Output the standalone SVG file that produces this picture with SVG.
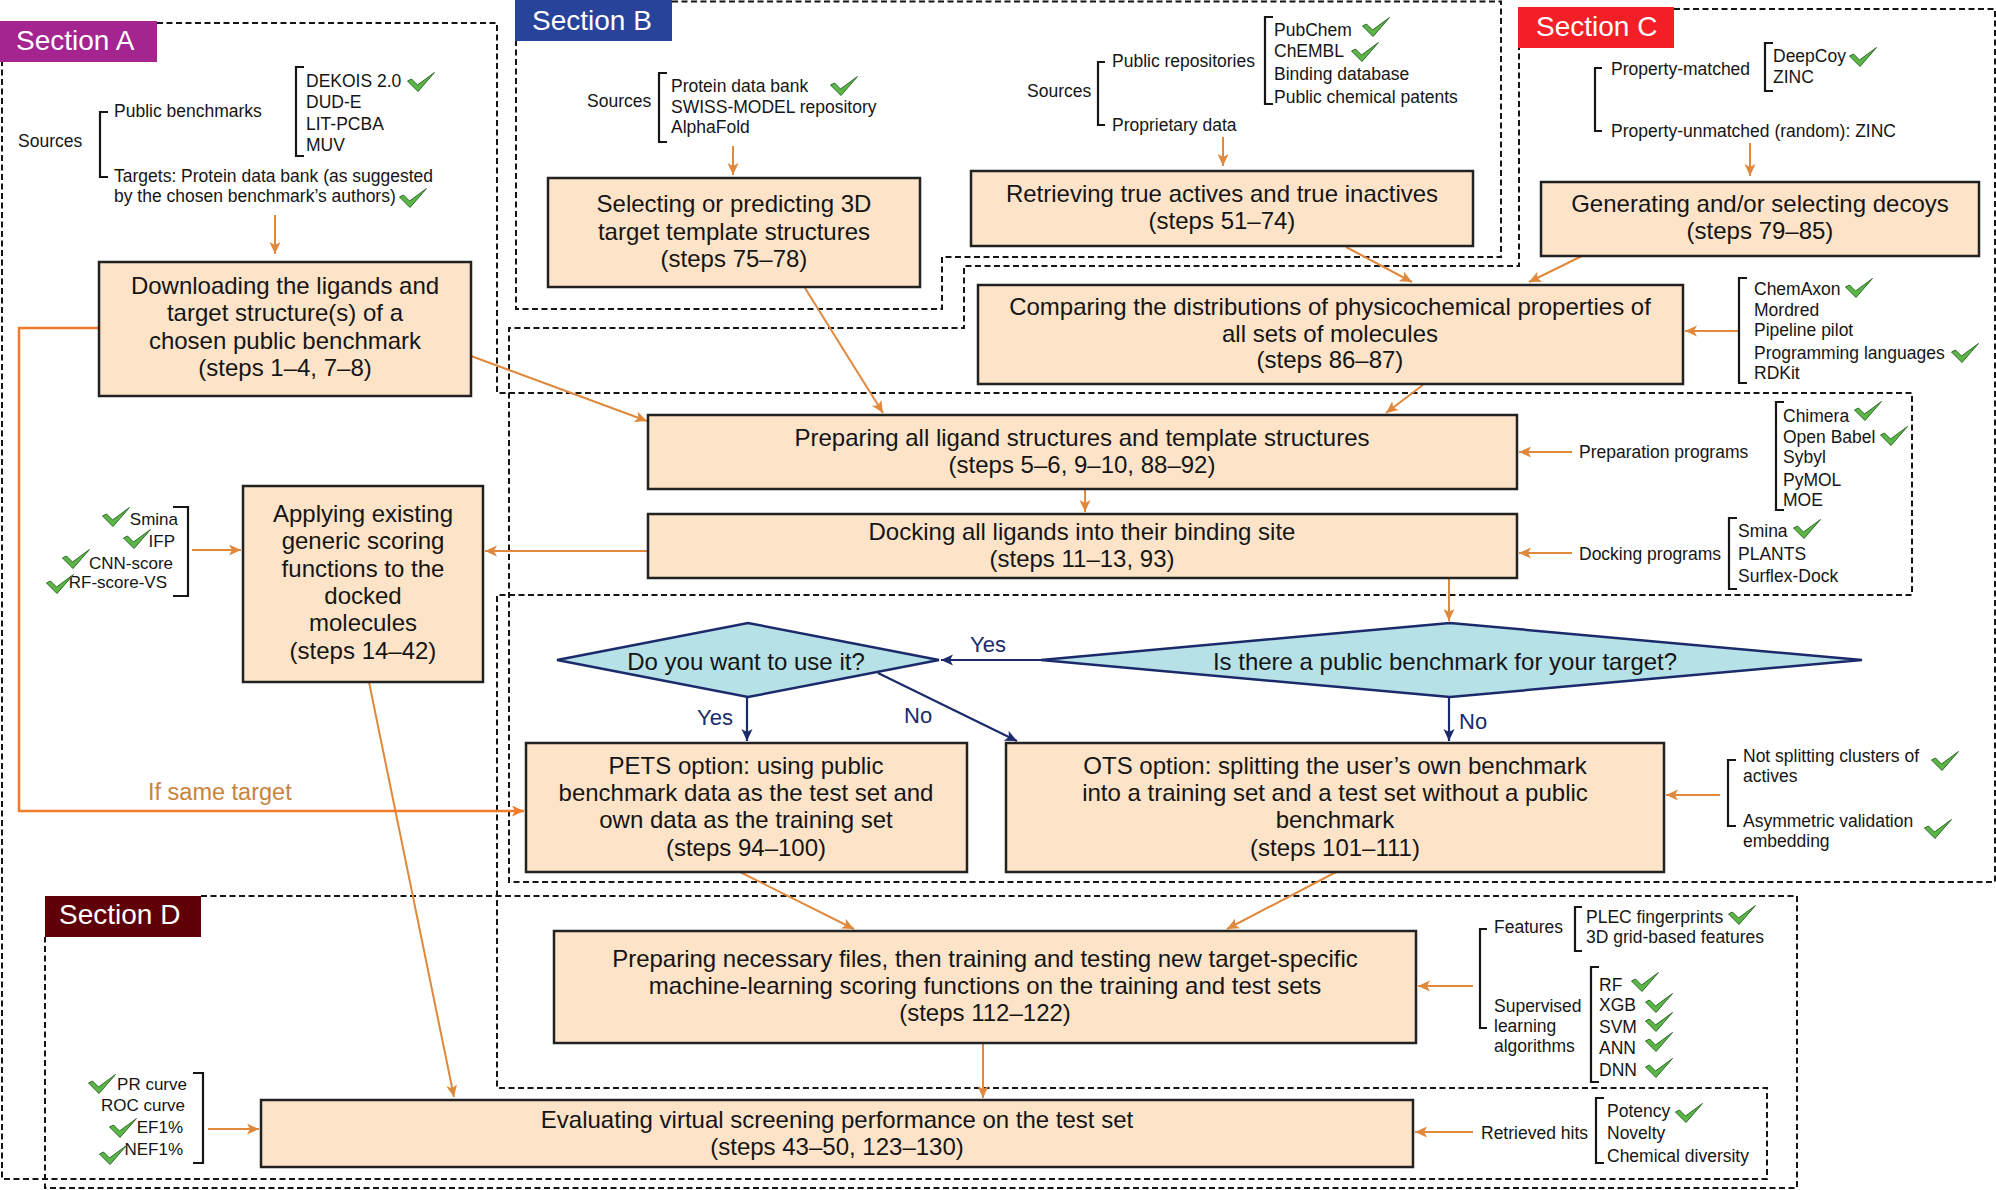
<svg xmlns="http://www.w3.org/2000/svg" xmlns:xlink="http://www.w3.org/1999/xlink" width="1996" height="1190" viewBox="0 0 1996 1190">
<defs>
<style>
text{font-family:"Liberation Sans",Arial,sans-serif;fill:#151515}
.nt{font-size:24px;text-anchor:middle}
.st{font-size:17.5px}
.sm{font-size:17px}
.end{text-anchor:end}
.sec{font-size:28px;fill:#ffffff}
.node{fill:#fde3c8;stroke:#222;stroke-width:2.5}
.dash{fill:none;stroke:#151515;stroke-width:2;stroke-dasharray:6 3.5}
.br{fill:none;stroke:#151515;stroke-width:2.2}
.oa{fill:none;stroke:#e0883c;stroke-width:2;marker-end:url(#ao)}
.na{fill:none;stroke:#1b2a6b;stroke-width:2.2;marker-end:url(#an)}
.dia{fill:#b6e1e7;stroke:#1b2a6b;stroke-width:2.5}
.lbl{font-size:22px;fill:#1b2a6b}
</style>
<marker id="ao" markerUnits="userSpaceOnUse" markerWidth="13" markerHeight="12" refX="12" refY="5.5" orient="auto"><path d="M0,0 L12,5.5 L0,11 L3,5.5 Z" fill="#e0883c"/></marker>
<marker id="ab" markerUnits="userSpaceOnUse" markerWidth="13" markerHeight="12" refX="12" refY="5.5" orient="auto"><path d="M0,0 L12,5.5 L0,11 L3,5.5 Z" fill="#f27a2b"/></marker>
<marker id="an" markerUnits="userSpaceOnUse" markerWidth="13" markerHeight="12" refX="12" refY="5.5" orient="auto"><path d="M0,0 L12,5.5 L0,11 L3,5.5 Z" fill="#1b2a6b"/></marker>
<symbol id="chk" viewBox="0 0 28 20"><path d="M0.5,9 L4.5,7 L10.5,13 L27.5,0.5 L11,19.5 Z" fill="#5cb646" stroke="#2d6a2a" stroke-width="1"/></symbol>
</defs>
<rect width="1996" height="1190" fill="#ffffff"/>

<!-- section outlines -->
<g id="section-a">
<path class="dash" d="M157,23 H497 V393 H1912 V595 H497 V1088 H1767 V1179 H2 V62"/>
<rect x="0" y="21" width="157" height="41" fill="#a42490"/>
<text class="sec" x="16" y="50">Section A</text>
</g>
<g id="section-b">
<path class="dash" d="M672,1.5 H1501 V257 H942 V309 H516 V41"/>
<rect x="515" y="0" width="157" height="41" fill="#27439a"/>
<text class="sec" x="532" y="30">Section B</text>
</g>
<g id="section-c">
<path class="dash" d="M1674,9 H1995 V882 H509 V328 H964 V266 H1519 V48"/>
<rect x="1518" y="7" width="156" height="41" fill="#f41e27"/>
<text class="sec" x="1536" y="36">Section C</text>
</g>
<g id="section-d">
<path class="dash" d="M201,896 H1797 V1188 H45 V937"/>
<rect x="45" y="896" width="156" height="41" fill="#5e0006"/>
<text class="sec" x="59" y="924">Section D</text>
</g>

<!-- connectors -->
<g id="connectors">
<path class="oa" d="M275,215 V254"/>
<path class="oa" d="M733,146 V175"/>
<path class="oa" d="M1223,137 V166"/>
<path class="oa" d="M1750,143 V176"/>
<path class="oa" d="M1346,247 L1412,282"/>
<path class="oa" d="M1582,256 L1529,282"/>
<path class="oa" d="M1739,331 H1685"/>
<path class="oa" d="M1423,385 L1386,413"/>
<path class="oa" d="M471,356 L647,421"/>
<path class="oa" d="M805,288 L883,413"/>
<path class="oa" d="M1085,489 V512"/>
<path class="oa" d="M1572,452 H1519"/>
<path class="oa" d="M1572,553 H1519"/>
<path class="oa" d="M648,551 H485"/>
<path class="oa" d="M192,550 H241"/>
<path class="oa" d="M1449,578 V621"/>
<path class="oa" d="M369,682 L454,1097"/>
<path d="M99,328 H19 V811 H524" fill="none" stroke="#f27a2b" stroke-width="2.5" marker-end="url(#ab)"/>
<text x="148" y="800" style="font-size:23.5px;fill:#c8843e">If same target</text>
<path class="oa" d="M740,872 L854,929"/>
<path class="oa" d="M1336,872 L1227,929"/>
<path class="oa" d="M1720,795 H1666"/>
<path class="oa" d="M983,1043 V1098"/>
<path class="oa" d="M1473,986 H1418"/>
<path class="oa" d="M1473,1132 H1415"/>
<path class="oa" d="M208,1129 H259"/>
<path class="na" d="M1041,660 H941"/>
<text class="lbl" x="970" y="652">Yes</text>
<path class="na" d="M747,697 V741"/>
<text class="lbl" x="697" y="725">Yes</text>
<path class="na" d="M878,673 L1017,741"/>
<text class="lbl" x="904" y="723">No</text>
<path class="na" d="M1449,697 V741"/>
<text class="lbl" x="1459" y="729">No</text>
</g>

<!-- Section A sources -->
<g id="a-sources">
<text class="st" x="18" y="147">Sources</text>
<path class="br" d="M108,112 H100 V177 H108"/>
<text class="st" x="114" y="117">Public benchmarks</text>
<text class="st" x="114" y="182">Targets: Protein data bank (as suggested</text>
<text class="st" x="114" y="202">by the chosen benchmark’s authors)</text>
<use href="#chk" x="399" y="188" width="28" height="20"/>
<path class="br" d="M304,67 H296 V156 H304"/>
<text class="st" x="306" y="87">DEKOIS 2.0</text>
<text class="st" x="306" y="108">DUD-E</text>
<text class="st" x="306" y="130">LIT-PCBA</text>
<text class="st" x="306" y="151">MUV</text>
<use href="#chk" x="407" y="72" width="28" height="20"/>
</g>

<g id="download">
<rect class="node" x="99" y="262" width="372" height="134"/>
<text class="nt" x="285" y="294">Downloading the ligands and</text>
<text class="nt" x="285" y="321">target structure(s) of a</text>
<text class="nt" x="285" y="349">chosen public benchmark</text>
<text class="nt" x="285" y="376">(steps 1–4, 7–8)</text>
</g>

<!-- Section B sources -->
<g id="b-sources-template">
<text class="st" x="587" y="107">Sources</text>
<path class="br" d="M667,73 H659 V142 H667"/>
<text class="st" x="671" y="92">Protein data bank</text>
<text class="st" x="671" y="113">SWISS-MODEL repository</text>
<text class="st" x="671" y="133">AlphaFold</text>
<use href="#chk" x="830" y="76" width="28" height="20"/>
</g>
<g id="b-sources-actives">
<text class="st" x="1027" y="97">Sources</text>
<path class="br" d="M1105,62 H1098 V125 H1105"/>
<text class="st" x="1112" y="67">Public repositories</text>
<text class="st" x="1112" y="131">Proprietary data</text>
<path class="br" d="M1273,17 H1265 V104 H1273"/>
<text class="st" x="1274" y="36">PubChem</text>
<text class="st" x="1274" y="57">ChEMBL</text>
<text class="st" x="1274" y="80">Binding database</text>
<text class="st" x="1274" y="103">Public chemical patents</text>
<use href="#chk" x="1362" y="17" width="28" height="20"/>
<use href="#chk" x="1351" y="42" width="28" height="20"/>
</g>

<g id="selecting">
<rect class="node" x="548" y="178" width="372" height="109"/>
<text class="nt" x="734" y="212">Selecting or predicting 3D</text>
<text class="nt" x="734" y="240">target template structures</text>
<text class="nt" x="734" y="267">(steps 75–78)</text>
</g>
<g id="retrieving">
<rect class="node" x="971" y="171" width="502" height="75"/>
<text class="nt" x="1222" y="202">Retrieving true actives and true inactives</text>
<text class="nt" x="1222" y="229">(steps 51–74)</text>
</g>

<!-- Section C sources -->
<g id="c-sources">
<path class="br" d="M1602,68 H1595 V131 H1602"/>
<text class="st" x="1611" y="75">Property-matched</text>
<text class="st" x="1611" y="137">Property-unmatched (random): ZINC</text>
<path class="br" d="M1773,43 H1765 V91 H1773"/>
<text class="st" x="1773" y="62">DeepCoy</text>
<text class="st" x="1773" y="83">ZINC</text>
<use href="#chk" x="1849" y="47" width="28" height="20"/>
</g>
<g id="generating">
<rect class="node" x="1541" y="182" width="438" height="74"/>
<text class="nt" x="1760" y="212">Generating and/or selecting decoys</text>
<text class="nt" x="1760" y="239">(steps 79–85)</text>
</g>
<g id="comparing">
<rect class="node" x="978" y="285" width="705" height="99"/>
<text class="nt" x="1330" y="315">Comparing the distributions of physicochemical properties of</text>
<text class="nt" x="1330" y="342">all sets of molecules</text>
<text class="nt" x="1330" y="368">(steps 86–87)</text>
</g>
<g id="property-tools">
<path class="br" d="M1747,278 H1739 V383 H1747"/>
<text class="st" x="1754" y="295">ChemAxon</text>
<text class="st" x="1754" y="316">Mordred</text>
<text class="st" x="1754" y="336">Pipeline pilot</text>
<text class="st" x="1754" y="359">Programming languages</text>
<text class="st" x="1754" y="379">RDKit</text>
<use href="#chk" x="1845" y="278" width="28" height="20"/>
<use href="#chk" x="1951" y="343" width="28" height="20"/>
</g>

<g id="preparing">
<rect class="node" x="648" y="415" width="869" height="74"/>
<text class="nt" x="1082" y="446">Preparing all ligand structures and template structures</text>
<text class="nt" x="1082" y="473">(steps 5–6, 9–10, 88–92)</text>
</g>
<g id="docking">
<rect class="node" x="648" y="514" width="869" height="64"/>
<text class="nt" x="1082" y="540">Docking all ligands into their binding site</text>
<text class="nt" x="1082" y="567">(steps 11–13, 93)</text>
</g>
<g id="prep-programs">
<text class="st" x="1579" y="458">Preparation programs</text>
<path class="br" d="M1784,402 H1776 V510 H1784"/>
<text class="st" x="1783" y="422">Chimera</text>
<text class="st" x="1783" y="443">Open Babel</text>
<text class="st" x="1783" y="463">Sybyl</text>
<text class="st" x="1783" y="486">PyMOL</text>
<text class="st" x="1783" y="506">MOE</text>
<use href="#chk" x="1854" y="401" width="28" height="20"/>
<use href="#chk" x="1880" y="426" width="28" height="20"/>
</g>
<g id="dock-programs">
<text class="st" x="1579" y="560">Docking programs</text>
<path class="br" d="M1737,518 H1729 V589 H1737"/>
<text class="st" x="1738" y="537">Smina</text>
<text class="st" x="1738" y="560">PLANTS</text>
<text class="st" x="1738" y="582">Surflex-Dock</text>
<use href="#chk" x="1793" y="519" width="28" height="20"/>
</g>

<g id="scoring-list">
<path class="br" d="M173,507 H188 V596 H173"/>
<text class="sm end" x="178" y="525">Smina</text>
<text class="sm end" x="175" y="547">IFP</text>
<text class="sm end" x="173" y="569">CNN-score</text>
<text class="sm end" x="167" y="588">RF-score-VS</text>
<use href="#chk" x="102" y="507" width="28" height="20"/>
<use href="#chk" x="123" y="529" width="28" height="20"/>
<use href="#chk" x="62" y="549" width="28" height="20"/>
<use href="#chk" x="46" y="574" width="28" height="20"/>
</g>
<g id="applying">
<rect class="node" x="243" y="486" width="240" height="196"/>
<text class="nt" x="363" y="522">Applying existing</text>
<text class="nt" x="363" y="549">generic scoring</text>
<text class="nt" x="363" y="577">functions to the</text>
<text class="nt" x="363" y="604">docked</text>
<text class="nt" x="363" y="631">molecules</text>
<text class="nt" x="363" y="659">(steps 14–42)</text>
</g>

<g id="q-benchmark">
<polygon class="dia" points="1041,660 1450,623 1862,660 1450,697"/>
<text class="nt" x="1445" y="670">Is there a public benchmark for your target?</text>
</g>
<g id="q-use">
<polygon class="dia" points="557,660 748,623 939,660 748,697"/>
<text class="nt" x="746" y="670">Do you want to use it?</text>
</g>

<g id="pets">
<rect class="node" x="526" y="743" width="441" height="129"/>
<text class="nt" x="746" y="774">PETS option: using public</text>
<text class="nt" x="746" y="801">benchmark data as the test set and</text>
<text class="nt" x="746" y="828">own data as the training set</text>
<text class="nt" x="746" y="856">(steps 94–100)</text>
</g>
<g id="ots">
<rect class="node" x="1006" y="743" width="658" height="129"/>
<text class="nt" x="1335" y="774">OTS option: splitting the user’s own benchmark</text>
<text class="nt" x="1335" y="801">into a training set and a test set without a public</text>
<text class="nt" x="1335" y="828">benchmark</text>
<text class="nt" x="1335" y="856">(steps 101–111)</text>
</g>
<g id="ots-options">
<path class="br" d="M1736,760 H1728 V826 H1736"/>
<text class="st" x="1743" y="762">Not splitting clusters of</text>
<text class="st" x="1743" y="782">actives</text>
<text class="st" x="1743" y="827">Asymmetric validation</text>
<text class="st" x="1743" y="847">embedding</text>
<use href="#chk" x="1931" y="751" width="28" height="20"/>
<use href="#chk" x="1924" y="819" width="28" height="20"/>
</g>

<g id="ml-training">
<rect class="node" x="554" y="931" width="862" height="112"/>
<text class="nt" x="985" y="967">Preparing necessary files, then training and testing new target-specific</text>
<text class="nt" x="985" y="994">machine-learning scoring functions on the training and test sets</text>
<text class="nt" x="985" y="1021">(steps 112–122)</text>
</g>
<g id="ml-options">
<path class="br" d="M1487,929 H1480 V1028 H1487"/>
<text class="st" x="1494" y="933">Features</text>
<text class="st" x="1494" y="1012">Supervised</text>
<text class="st" x="1494" y="1032">learning</text>
<text class="st" x="1494" y="1052">algorithms</text>
<path class="br" d="M1582,907 H1575 V951 H1582"/>
<text class="st" x="1586" y="923">PLEC fingerprints</text>
<text class="st" x="1586" y="943">3D grid-based features</text>
<use href="#chk" x="1728" y="905" width="28" height="20"/>
<path class="br" d="M1599,967 H1591 V1082 H1599"/>
<text class="st" x="1599" y="991">RF</text>
<text class="st" x="1599" y="1011">XGB</text>
<text class="st" x="1599" y="1033">SVM</text>
<text class="st" x="1599" y="1054">ANN</text>
<text class="st" x="1599" y="1076">DNN</text>
<use href="#chk" x="1631" y="972" width="28" height="20"/>
<use href="#chk" x="1645" y="993" width="28" height="20"/>
<use href="#chk" x="1645" y="1012" width="28" height="20"/>
<use href="#chk" x="1645" y="1032" width="28" height="20"/>
<use href="#chk" x="1645" y="1058" width="28" height="20"/>
</g>

<g id="evaluating">
<rect class="node" x="261" y="1100" width="1152" height="67"/>
<text class="nt" x="837" y="1128">Evaluating virtual screening performance on the test set</text>
<text class="nt" x="837" y="1155">(steps 43–50, 123–130)</text>
</g>
<g id="metrics">
<path class="br" d="M193,1073 H203 V1163 H193"/>
<text class="sm end" x="187" y="1090">PR curve</text>
<text class="sm end" x="185" y="1111">ROC curve</text>
<text class="sm end" x="183" y="1133">EF1%</text>
<text class="sm end" x="183" y="1155">NEF1%</text>
<use href="#chk" x="88" y="1074" width="28" height="20"/>
<use href="#chk" x="109" y="1118" width="28" height="20"/>
<use href="#chk" x="99" y="1145" width="28" height="20"/>
</g>
<g id="hits">
<text class="st" x="1481" y="1139">Retrieved hits</text>
<path class="br" d="M1604,1098 H1596 V1163 H1604"/>
<text class="st" x="1607" y="1117">Potency</text>
<text class="st" x="1607" y="1139">Novelty</text>
<text class="st" x="1607" y="1162">Chemical diversity</text>
<use href="#chk" x="1675" y="1103" width="28" height="20"/>
</g>
</svg>
